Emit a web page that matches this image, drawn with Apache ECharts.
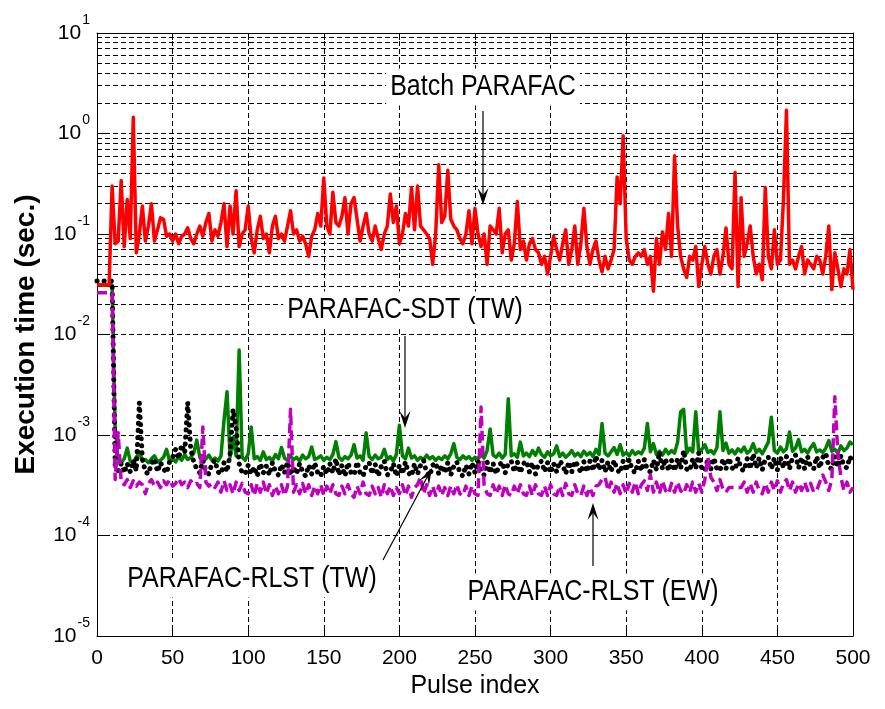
<!DOCTYPE html>
<html>
<head>
<meta charset="utf-8">
<script src="https://cdn.jsdelivr.net/npm/echarts@6/dist/echarts.min.js"></script>
<style>
  html, body { margin: 0; padding: 0; background: #fff; }
  #chart { width: 885px; height: 709px; }
</style>
</head>
<body>
<div id="chart"></div>
<script>
// one value every 2 pulses, pulse 0 .. 500
const pulseStep = 2;

const batchParafac = [
  .031,.031,.031,.031,.031,.30,.08,.085,.34,.075,
  .22,.09,1.45,.065,.10,.19,.085,.12,.20,.085,
  .11,.145,.14,.095,.10,.085,.10,.08,.095,.10,
  .115,.09,.08,.10,.12,.095,.13,.16,.085,.11,
  .095,.13,.20,.075,.19,.10,.27,.075,.10,.11,
  .19,.09,.065,.11,.15,.09,.10,.065,.12,.15,
  .09,.10,.085,.12,.17,.10,.11,.085,.095,.08,
  .06,.095,.11,.16,.12,.36,.12,.10,.26,.13,
  .12,.15,.23,.10,.20,.23,.14,.085,.12,.16,
  .10,.085,.12,.09,.07,.10,.12,.25,.13,.19,
  .08,.10,.16,.12,.29,.11,.30,.12,.11,.10,
  .09,.05,.10,.49,.13,.15,.43,.14,.12,.11,
  .09,.08,.10,.17,.08,.18,.10,.075,.10,.05,
  .12,.11,.10,.18,.065,.10,.11,.055,.08,.21,
  .07,.085,.055,.08,.09,.07,.065,.05,.06,.04,
  .06,.095,.07,.055,.08,.11,.05,.07,.12,.05,
  .08,.18,.075,.05,.07,.085,.055,.042,.06,.045,
  .055,.07,.37,.20,.95,.09,.055,.05,.06,.065,
  .06,.07,.05,.06,.027,.09,.05,.105,.07,.16,
  .06,.60,.12,.06,.045,.037,.06,.055,.075,.03,
  .05,.075,.05,.04,.06,.07,.04,.06,.115,.05,
  .045,.41,.03,.23,.06,.08,.12,.06,.04,.05,
  .035,.29,.06,.045,.11,.05,.055,.22,1.7,.05,
  .055,.045,.06,.075,.04,.055,.05,.045,.06,.055,
  .04,.06,.12,.028,.065,.045,.03,.045,.04,.07,
  .028
];

const sdtTW = [
  .031,.031,.031,.031,.031,.031,1.2e-3,5.6e-4,5.3e-4,5.8e-4,
  7.4e-4,5.5e-4,5.4e-4,6.0e-4,6.8e-4,5.5e-4,5.7e-4,5.3e-4,5.8e-4,6.2e-4,
  5.4e-4,5.6e-4,6.0e-4,7.2e-4,5.5e-4,5.8e-4,5.4e-4,6.1e-4,5.6e-4,6.4e-4,
  5.7e-4,6.0e-4,6.6e-4,8.9e-4,6.0e-4,5.5e-4,5.8e-4,6.3e-4,5.6e-4,5.9e-4,
  5.5e-4,6.2e-4,1.4e-3,2.7e-3,6.0e-4,9.5e-4,6.2e-4,7.0e-3,6.0e-4,5.6e-4,
  6.5e-4,1.2e-3,5.8e-4,6.1e-4,5.6e-4,6.8e-4,5.7e-4,6.0e-4,5.5e-4,6.4e-4,
  5.8e-4,7.5e-4,5.9e-4,5.6e-4,6.2e-4,5.7e-4,6.0e-4,5.5e-4,6.3e-4,5.8e-4,
  6.1e-4,7.6e-4,5.7e-4,5.9e-4,6.2e-4,5.6e-4,6.0e-4,5.7e-4,6.4e-4,8.6e-4,
  6.0e-4,5.6e-4,6.1e-4,5.8e-4,6.3e-4,8.0e-4,5.9e-4,6.2e-4,5.6e-4,1.05e-3,
  6.1e-4,5.7e-4,6.3e-4,5.8e-4,6.0e-4,7.2e-4,5.7e-4,6.1e-4,5.5e-4,6.4e-4,
  1.25e-3,6.2e-4,5.8e-4,7.4e-4,5.9e-4,6.2e-4,5.6e-4,6.0e-4,5.7e-4,6.3e-4,
  5.8e-4,6.1e-4,5.6e-4,6.0e-4,5.7e-4,6.2e-4,5.8e-4,6.5e-4,8.2e-4,6.0e-4,
  5.7e-4,6.2e-4,5.8e-4,6.1e-4,5.6e-4,6.0e-4,5.8e-4,6.4e-4,5.9e-4,7.0e-4,
  1.15e-3,6.3e-4,6.0e-4,6.6e-4,5.9e-4,6.4e-4,2.3e-3,6.2e-4,6.5e-4,6.0e-4,
  8.5e-4,6.2e-4,6.6e-4,6.1e-4,7.0e-4,6.3e-4,7.4e-4,6.4e-4,6.0e-4,6.8e-4,
  6.2e-4,6.5e-4,7.8e-4,6.1e-4,6.6e-4,6.0e-4,6.4e-4,7.0e-4,6.2e-4,6.6e-4,
  6.1e-4,6.9e-4,6.3e-4,6.7e-4,6.1e-4,7.2e-4,6.4e-4,1.3e-3,6.6e-4,6.2e-4,
  6.8e-4,7.5e-4,6.4e-4,8.0e-4,6.3e-4,6.7e-4,6.2e-4,7.0e-4,6.4e-4,6.8e-4,
  6.5e-4,7.4e-4,1.3e-3,6.8e-4,8.2e-4,6.4e-4,6.9e-4,6.3e-4,7.2e-4,6.5e-4,
  7.0e-4,6.6e-4,8.5e-4,1.7e-3,1.8e-3,6.6e-4,7.4e-4,6.8e-4,1.7e-3,6.6e-4,
  7.2e-4,8.0e-4,6.7e-4,7.0e-4,6.5e-4,7.5e-4,1.7e-3,7.0e-4,8.3e-4,6.6e-4,
  7.1e-4,6.5e-4,7.3e-4,6.8e-4,7.6e-4,6.6e-4,7.0e-4,8.2e-4,6.7e-4,7.2e-4,
  6.5e-4,7.4e-4,8.5e-4,1.5e-3,7.0e-4,6.6e-4,7.6e-4,6.8e-4,7.3e-4,1.07e-3,
  6.9e-4,7.4e-4,9.0e-4,6.8e-4,7.2e-4,6.6e-4,7.5e-4,8.2e-4,6.8e-4,7.1e-4,
  6.7e-4,7.4e-4,8.8e-4,6.9e-4,7.2e-4,6.6e-4,7.8e-4,7.0e-4,7.4e-4,8.5e-4,
  8.0e-4
];

const rlstTW = [
  .034,.034,.034,.034,.034,.034,5.0e-4,4.4e-4,5.2e-4,4.2e-4,
  5.2e-4,4.3e-4,5.6e-4,4.4e-4,2.1e-3,5.8e-4,4.3e-4,4.1e-4,5.2e-4,5.8e-4,
  4.3e-4,5.3e-4,4.6e-4,4.2e-4,5.4e-4,6.0e-4,7.2e-4,5.8e-4,8.0e-4,6.6e-4,
  2.1e-3,7.2e-4,5.4e-4,4.6e-4,4.2e-4,5.6e-4,4.3e-4,4.1e-4,5.2e-4,5.6e-4,
  4.3e-4,4.1e-4,5.3e-4,4.3e-4,6.4e-4,1.8e-3,1.2e-3,5.2e-4,4.2e-4,4.1e-4,
  5.0e-4,4.1e-4,4.8e-4,3.9e-4,5.2e-4,4.2e-4,4.9e-4,4.0e-4,5.3e-4,4.3e-4,
  4.0e-4,5.1e-4,4.2e-4,5.4e-4,4.0e-4,4.8e-4,4.1e-4,5.2e-4,4.3e-4,3.9e-4,
  5.0e-4,4.1e-4,5.3e-4,4.2e-4,3.9e-4,4.9e-4,4.1e-4,5.2e-4,4.2e-4,5.8e-4,
  4.0e-4,5.0e-4,3.9e-4,5.3e-4,4.2e-4,4.0e-4,5.4e-4,4.2e-4,3.9e-4,5.0e-4,
  5.3e-4,4.1e-4,5.1e-4,3.9e-4,4.9e-4,5.5e-4,4.0e-4,4.3e-4,5.2e-4,3.9e-4,
  5.0e-4,4.1e-4,5.4e-4,4.2e-4,3.9e-4,5.2e-4,4.1e-4,5.0e-4,5.6e-4,4.2e-4,
  3.9e-4,5.0e-4,5.3e-4,4.1e-4,5.0e-4,4.2e-4,5.3e-4,4.0e-4,4.9e-4,5.4e-4,
  4.2e-4,3.9e-4,5.0e-4,4.1e-4,5.3e-4,4.2e-4,5.5e-4,4.3e-4,4.0e-4,5.4e-4,
  4.2e-4,5.2e-4,4.1e-4,5.0e-4,5.4e-4,4.2e-4,5.2e-4,5.5e-4,4.3e-4,5.4e-4,
  4.2e-4,5.2e-4,5.5e-4,4.3e-4,5.3e-4,4.1e-4,5.2e-4,5.5e-4,4.3e-4,5.3e-4,
  4.2e-4,5.2e-4,4.3e-4,5.5e-4,5.1e-4,4.1e-4,5.4e-4,4.3e-4,5.5e-4,5.0e-4,
  4.2e-4,5.4e-4,4.3e-4,5.5e-4,4.4e-4,6.2e-4,4.5e-4,5.6e-4,4.3e-4,5.4e-4,
  4.3e-4,5.6e-4,4.5e-4,4.2e-4,5.5e-4,4.4e-4,5.7e-4,4.5e-4,4.2e-4,5.5e-4,
  4.4e-4,5.7e-4,4.5e-4,4.3e-4,5.6e-4,4.5e-4,6.8e-4,4.6e-4,5.8e-4,4.4e-4,
  5.6e-4,4.4e-4,5.8e-4,4.6e-4,7.0e-4,4.6e-4,4.4e-4,5.8e-4,4.6e-4,6.6e-4,
  4.6e-4,4.4e-4,5.8e-4,4.6e-4,5.9e-4,4.6e-4,4.4e-4,5.8e-4,4.6e-4,5.9e-4,
  4.7e-4,4.5e-4,5.9e-4,4.6e-4,4.4e-4,5.8e-4,4.6e-4,6.5e-4,4.7e-4,5.9e-4,
  4.5e-4,5.8e-4,6.0e-4,4.6e-4,5.9e-4,4.5e-4,6.0e-4,4.7e-4,6.1e-4,4.6e-4,
  6.0e-4,6.3e-4,4.7e-4,6.0e-4,4.6e-4,6.1e-4,4.8e-4,4.6e-4,6.1e-4,4.7e-4,
  6.0e-4,6.6e-4,4.8e-4,4.6e-4,6.1e-4,4.8e-4,6.2e-4,4.9e-4,4.7e-4,6.1e-4,
  5.2e-4
];

const rlstEW = [
  .026,.026,.026,.026,.026,.026,3.6e-4,1.05e-3,3.4e-4,3.2e-4,
  3.6e-4,3.0e-4,3.5e-4,3.1e-4,3.4e-4,3.2e-4,2.6e-4,3.3e-4,3.6e-4,3.1e-4,
  3.4e-4,3.0e-4,3.5e-4,3.2e-4,3.6e-4,3.1e-4,3.3e-4,3.7e-4,3.2e-4,3.4e-4,
  3.0e-4,3.5e-4,3.2e-4,3.3e-4,3.0e-4,1.2e-3,3.4e-4,3.1e-4,3.3e-4,3.0e-4,
  3.4e-4,2.7e-4,3.5e-4,2.8e-4,3.2e-4,2.6e-4,3.4e-4,2.8e-4,3.3e-4,2.7e-4,
  2.6e-4,3.2e-4,2.5e-4,3.3e-4,2.7e-4,3.4e-4,2.6e-4,3.2e-4,2.5e-4,3.1e-4,
  2.6e-4,3.2e-4,2.5e-4,3.1e-4,1.8e-3,2.7e-4,3.2e-4,2.6e-4,3.3e-4,2.6e-4,
  3.2e-4,2.5e-4,3.1e-4,2.6e-4,3.2e-4,2.5e-4,3.1e-4,2.6e-4,3.2e-4,2.6e-4,
  2.5e-4,3.1e-4,2.6e-4,3.2e-4,2.6e-4,2.4e-4,3.1e-4,2.6e-4,3.4e-4,2.6e-4,
  2.5e-4,3.1e-4,2.6e-4,3.0e-4,2.4e-4,3.2e-4,2.6e-4,3.1e-4,2.5e-4,3.0e-4,
  2.6e-4,3.2e-4,2.5e-4,3.1e-4,2.4e-4,3.0e-4,3.2e-4,3.8e-4,2.6e-4,3.2e-4,
  2.5e-4,3.1e-4,2.5e-4,3.1e-4,2.5e-4,3.0e-4,2.5e-4,3.1e-4,2.6e-4,3.2e-4,
  2.6e-4,2.5e-4,3.1e-4,2.5e-4,3.1e-4,2.6e-4,2.5e-4,1.9e-3,3.2e-4,2.6e-4,
  2.5e-4,3.2e-4,2.6e-4,3.1e-4,2.5e-4,3.2e-4,2.6e-4,2.5e-4,3.1e-4,2.6e-4,
  3.2e-4,2.6e-4,2.5e-4,3.1e-4,2.5e-4,3.2e-4,2.6e-4,2.5e-4,3.1e-4,2.5e-4,
  3.2e-4,2.6e-4,2.5e-4,3.1e-4,2.5e-4,3.3e-4,2.6e-4,2.5e-4,3.2e-4,2.6e-4,
  2.5e-4,3.1e-4,2.5e-4,3.0e-4,2.5e-4,3.1e-4,3.2e-4,3.6e-4,3.8e-4,2.8e-4,
  3.4e-4,2.7e-4,3.3e-4,2.6e-4,3.2e-4,2.6e-4,3.3e-4,2.7e-4,3.4e-4,2.6e-4,
  3.2e-4,3.5e-4,2.8e-4,4.0e-4,2.7e-4,3.4e-4,2.6e-4,3.5e-4,2.8e-4,2.6e-4,
  3.3e-4,2.7e-4,3.4e-4,2.8e-4,2.6e-4,3.2e-4,2.7e-4,3.4e-4,2.7e-4,3.3e-4,
  2.7e-4,3.6e-4,6.0e-4,3.8e-4,3.4e-4,2.8e-4,3.6e-4,2.9e-4,2.7e-4,3.0e-4,
  3.0e-4,3.0e-4,3.0e-4,3.0e-4,3.4e-4,2.7e-4,3.3e-4,2.7e-4,3.4e-4,2.8e-4,
  2.6e-4,3.3e-4,2.7e-4,3.4e-4,2.8e-4,3.5e-4,2.7e-4,3.3e-4,3.6e-4,2.8e-4,
  3.4e-4,2.7e-4,3.3e-4,2.8e-4,3.4e-4,2.8e-4,3.3e-4,2.7e-4,2.8e-4,3.4e-4,
  4.0e-4,3.4e-4,2.8e-4,3.6e-4,2.4e-3,6.5e-4,3.8e-4,2.8e-4,3.4e-4,2.7e-4,
  3.0e-4
];

// log grid: decades and the minor steps between them
const decades = [1e-5, 1e-4, 1e-3, 1e-2, 1e-1, 1, 10];
const minorSteps = [2, 3, 4, 5, 6, 7, 8, 9];

const FONT = '"Liberation Sans", Arial, sans-serif';

const toPoints = arr => arr.map((v, i) => [i * pulseStep, v]);

const minorLines = [];
decades.slice(0, -1).forEach(d => {
  minorSteps.forEach(m => minorLines.push({ yAxis: m * d }));
});

const gridDash = { color: '#000', type: [5, 3], width: 1 };

function label(text, x, y) {
  return {
    type: 'text', x: x, y: y, scaleY: 1.2, z: 100,
    style: {
      text: text, fill: '#000', fontSize: 25, fontFamily: FONT,
      align: 'center', verticalAlign: 'middle',
      backgroundColor: '#fff', padding: [3, 4]
    }
  };
}

function arrow(x1, y1, x2, y2) {
  const len = Math.hypot(x2 - x1, y2 - y1);
  const ux = (x2 - x1) / len, uy = (y2 - y1) / len;
  const px = -uy, py = ux;
  const L = 17, W = 5.5, N = 10;
  return [
    {
      type: 'line', z: 100,
      shape: { x1: x1, y1: y1, x2: x2 - ux * N, y2: y2 - uy * N },
      style: { stroke: '#000', lineWidth: 1.2 }
    },
    {
      type: 'polygon', z: 100,
      shape: { points: [
        [x2, y2],
        [x2 - ux * L + px * W, y2 - uy * L + py * W],
        [x2 - ux * N, y2 - uy * N],
        [x2 - ux * L - px * W, y2 - uy * L - py * W]
      ] },
      style: { fill: '#000' }
    }
  ];
}

const chart = echarts.init(document.getElementById('chart'));

chart.setOption({
  animation: false,
  backgroundColor: '#fff',
  grid: { left: 97, top: 33, width: 756, height: 603 },
  xAxis: [
    {
      type: 'value', min: 0, max: 500, interval: 50, position: 'bottom',
      axisLine: { show: true, onZero: false, lineStyle: { color: '#000', width: 1 } },
      axisTick: { show: true, inside: true, length: 7, lineStyle: { color: '#000' } },
      axisLabel: { color: '#000', fontSize: 21, fontFamily: FONT, margin: 12 },
      splitLine: { show: true, lineStyle: gridDash },
      name: 'Pulse index', nameLocation: 'middle', nameGap: 38,
      nameTextStyle: { color: '#000', fontSize: 25, fontFamily: FONT }
    },
    {
      type: 'value', min: 0, max: 500, interval: 50, position: 'top',
      axisLine: { show: true, onZero: false, lineStyle: { color: '#000', width: 1 } },
      axisTick: { show: true, inside: true, length: 7, lineStyle: { color: '#000' } },
      axisLabel: { show: false },
      splitLine: { show: false }
    }
  ],
  yAxis: [
    {
      type: 'log', logBase: 10, min: 1e-5, max: 10, splitNumber: 6,
      axisLine: { show: true, onZero: false, lineStyle: { color: '#000', width: 1 } },
      axisTick: { show: true, inside: true, length: 9, lineStyle: { color: '#000' } },
      axisLabel: {
        margin: 7,
        formatter: v => '{b|10}{e|' + Math.round(Math.log10(v)) + '}',
        rich: {
          b: { fontSize: 21, fontFamily: FONT, color: '#000', lineHeight: 40 },
          e: { fontSize: 14, fontFamily: FONT, color: '#000', lineHeight: 14, verticalAlign: 'top', padding: [0, 0, 0, 1] }
        }
      },
      splitLine: { show: true, lineStyle: gridDash },
      name: 'Execution time (sec.)', nameLocation: 'middle', nameGap: 57,
      nameTextStyle: { color: '#000', fontSize: 28, fontWeight: 'bold', fontFamily: FONT }
    },
    {
      type: 'log', logBase: 10, min: 1e-5, max: 10, splitNumber: 6, position: 'right',
      axisLine: { show: true, onZero: false, lineStyle: { color: '#000', width: 1 } },
      axisTick: { show: true, inside: true, length: 9, lineStyle: { color: '#000' } },
      axisLabel: { show: false },
      splitLine: { show: false }
    }
  ],
  series: [
    {
      name: 'minor grid', type: 'line', data: [], z: 1, silent: true,
      markLine: {
        silent: true, symbol: 'none', label: { show: false },
        lineStyle: gridDash, emphasis: { disabled: true },
        data: minorLines
      }
    },
    {
      name: 'PARAFAC-SDT (TW)', type: 'line', data: toPoints(sdtTW), z: 3,
      showSymbol: false, symbol: 'none',
      lineStyle: { color: '#008000', width: 3.5, join: 'round' }
    },
    {
      name: 'PARAFAC-RLST (TW)', type: 'line', data: toPoints(rlstTW), z: 4,
      showSymbol: false, symbol: 'none',
      lineStyle: { color: '#000', width: 5, type: [0.1, 7], cap: 'round', join: 'round' }
    },
    {
      name: 'PARAFAC-RLST (EW)', type: 'line', data: toPoints(rlstEW), z: 5,
      showSymbol: false, symbol: 'none',
      lineStyle: { color: '#bf00bf', width: 3.5, type: [10, 5], join: 'round' }
    },
    {
      name: 'Batch PARAFAC', type: 'line', data: toPoints(batchParafac), z: 6,
      showSymbol: false, symbol: 'none',
      lineStyle: { color: '#ff0000', width: 3.5, join: 'round' }
    }
  ],
  graphic: [
    label('Batch PARAFAC', 483, 87),
    ...arrow(483, 111, 483, 205),
    label('PARAFAC-SDT (TW)', 405, 310),
    ...arrow(405, 336, 405, 428),
    label('PARAFAC-RLST (TW)', 252, 579),
    ...arrow(383, 560, 432, 468),
    label('PARAFAC-RLST (EW)', 593, 592),
    ...arrow(593, 566, 593, 503)
  ]
});
</script>
</body>
</html>
